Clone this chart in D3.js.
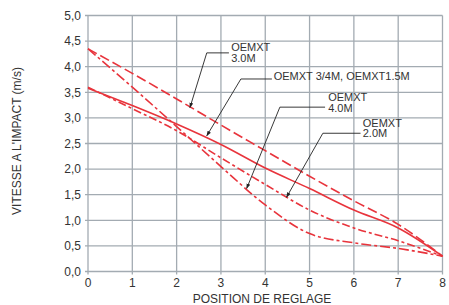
<!DOCTYPE html>
<html>
<head>
<meta charset="utf-8">
<script src="https://d3js.org/d3.v7.min.js"></script>
<style>
  body { margin: 0; background: #fff; }
  svg text { font-family: "Liberation Sans", Arial, sans-serif; fill: #333; }
  .grid line { stroke: #a3abb2; stroke-width: 1.3; }
  .curve { fill: none; stroke: #e8343c; stroke-width: 1.6; }
  .leader { fill: none; stroke: #222; stroke-width: 0.9; }
</style>
</head>
<body>
<div id="chart"></div>
<script>
// positions de reglage
var positions = [0, 1, 2, 3, 4, 5, 6, 7, 8];
var xTicks = [0, 1, 2, 3, 4, 5, 6, 7, 8];
var yTicks = [0, 0.5, 1, 1.5, 2, 2.5, 3, 3.5, 4, 4.5, 5];

// vitesse a l'impact (m/s) par modele
var oemxt30 = [4.35, 3.87, 3.37, 2.86, 2.36, 1.86, 1.38, 0.92, 0.3];
var oemxt15 = [3.58, 3.24, 2.88, 2.48, 2.02, 1.62, 1.2, 0.85, 0.3];
var oemxt40 = [4.35, 3.6, 2.83, 2.05, 1.3, 0.74, 0.56, 0.45, 0.3];
var oemxt20 = [3.6, 3.18, 2.75, 2.22, 1.7, 1.2, 0.85, 0.6, 0.3];

var series = [
  { name: "OEMXT 3.0M", values: oemxt30, dash: "10,4" },
  { name: "OEMXT 3/4M, OEMXT1.5M", values: oemxt15, dash: null },
  { name: "OEMXT 4.0M", values: oemxt40, dash: "10,3,3,3" },
  { name: "OEMXT 2.0M", values: oemxt20, dash: "8,3,3,3" }
];

var W = 449, H = 305;
var margin = { top: 15.5, right: 6.5, bottom: 33.5, left: 88 };
var width = W - margin.left - margin.right,
    height = H - margin.top - margin.bottom;

var svg = d3.select("#chart").append("svg")
    .attr("width", W)
    .attr("height", H);

var g = svg.append("g")
    .attr("transform", "translate(" + margin.left + "," + margin.top + ")");

var x = d3.scaleLinear().domain([0, 8]).range([0, width]);
var y = d3.scaleLinear().domain([0, 5]).range([height, 0]);

// grid
var grid = g.append("g").attr("class", "grid");
grid.selectAll(".v").data(xTicks).enter().append("line")
    .attr("x1", function(d){ return x(d); }).attr("x2", function(d){ return x(d); })
    .attr("y1", 0).attr("y2", height + 3);
grid.selectAll(".h").data(yTicks).enter().append("line")
    .attr("x1", -3).attr("x2", width)
    .attr("y1", function(d){ return y(d); }).attr("y2", function(d){ return y(d); });

// tick labels
var fmt = function(d){ return d.toFixed(1).replace(".", ","); };
g.selectAll(".ylab").data(yTicks).enter().append("text")
    .attr("x", -7)
    .attr("y", function(d){ return y(d); })
    .attr("dy", "0.35em")
    .attr("text-anchor", "end")
    .attr("font-size", 12)
    .text(fmt);
g.selectAll(".xlab").data(xTicks).enter().append("text")
    .attr("x", function(d){ return x(d); })
    .attr("y", height + 15.5)
    .attr("text-anchor", "middle")
    .attr("font-size", 12)
    .text(function(d){ return d; });

// axis titles
svg.append("text")
    .attr("x", 262).attr("y", 303)
    .attr("text-anchor", "middle")
    .attr("font-size", 12)
    .text("POSITION DE REGLAGE");
svg.append("text")
    .attr("transform", "translate(21,141) rotate(-90)")
    .attr("text-anchor", "middle")
    .attr("font-size", 12)
    .text("VITESSE A L'IMPACT (m/s)");

// curves
var line = d3.line()
    .x(function(d, i){ return x(positions[i]); })
    .y(function(d){ return y(d); })
    .curve(d3.curveMonotoneX);

g.selectAll(".curve").data(series).enter().append("path")
    .attr("class", "curve")
    .attr("stroke-dasharray", function(d){ return d.dash; })
    .attr("d", function(d){ return line(d.values); });

// annotations with leader lines (points in data units)
svg.append("defs").append("marker")
    .attr("id", "arr")
    .attr("viewBox", "0 0 10 10")
    .attr("refX", 9).attr("refY", 5)
    .attr("markerWidth", 6).attr("markerHeight", 6)
    .attr("orient", "auto")
  .append("path")
    .attr("d", "M0,1.5 L10,5 L0,8.5 Z")
    .attr("fill", "#222");

var notes = [
  { lines: ["OEMXT", "3.0M"], tx: 3.23, ty: 4.3, path: [[3.18, 4.27], [2.68, 4.27], [2.3, 3.2]] },
  { lines: ["OEMXT 3/4M, OEMXT1.5M"], tx: 4.19, ty: 3.75, path: [[4.15, 3.76], [3.45, 3.76], [2.68, 2.65]] },
  { lines: ["OEMXT", "4.0M"], tx: 5.42, ty: 3.33, path: [[5.35, 3.21], [4.33, 3.21], [3.58, 1.62]] },
  { lines: ["OEMXT", "2.0M"], tx: 6.2, ty: 2.83, path: [[6.15, 2.7], [5.3, 2.7], [4.48, 1.45]] }
];

var seg = d3.line().x(function(d){ return x(d[0]); }).y(function(d){ return y(d[1]); });

notes.forEach(function(n){
  g.append("path")
      .attr("class", "leader")
      .attr("d", seg(n.path))
      .attr("marker-end", "url(#arr)");
  var t = g.append("text")
      .attr("x", x(n.tx))
      .attr("y", y(n.ty))
      .attr("font-size", 11);
  n.lines.forEach(function(s, i){
    t.append("tspan")
        .attr("x", x(n.tx))
        .attr("dy", i === 0 ? 0 : 10.5)
        .text(s);
  });
});
</script>
</body>
</html>
